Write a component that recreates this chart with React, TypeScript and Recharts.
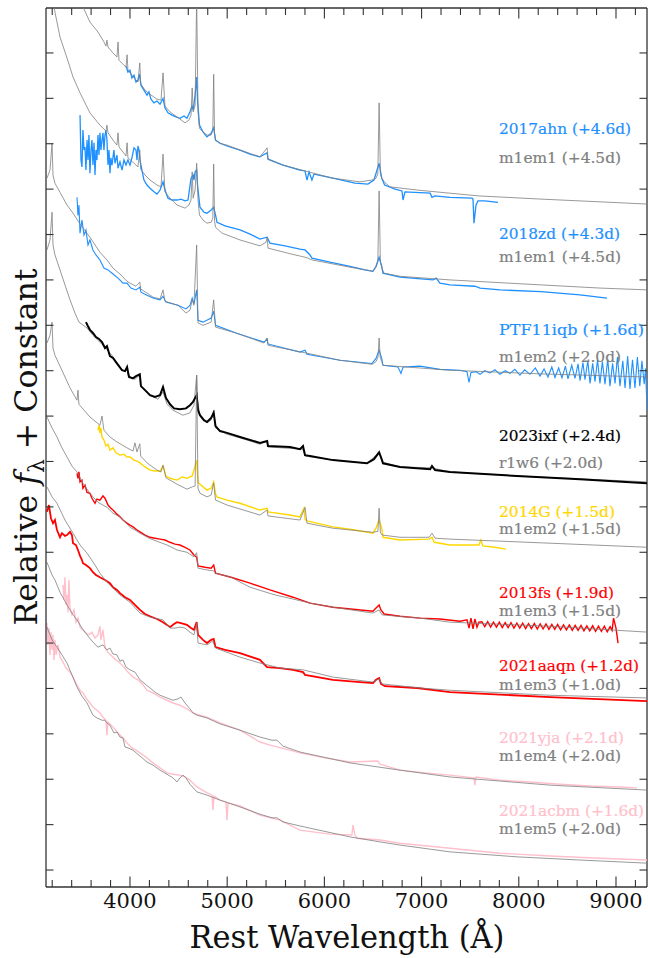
import React from "react";
import { ComposedChart, Line, XAxis, YAxis, ReferenceLine } from "recharts";

type Pt = [number, number];

// rest wavelength (A), relative flux + offset (one unit per y tick)
const sn2017ahn: Pt[] = [[3959,17.71],[3979,17.58],[4000,17.62],[4020,17.45],[4041,17.51],[4062,17.36],[4082,17.40],[4098,17.53],[4113,17.29],[4144,17.18],[4175,17.07],[4195,17.14],[4216,16.98],[4247,16.90],[4278,16.94],[4309,16.87],[4340,17.0],[4360,16.79],[4391,16.68],[4432,16.63],[4473,16.59],[4514,16.56],[4555,16.61],[4586,16.56],[4617,16.70],[4638,16.83],[4650,16.74],[4670,17.07],[4686,17.47],[4695,16.96],[4715,16.41],[4751,16.26],[4792,16.15],[4835,16.23],[4861,16.35],[4880,16.08],[4926,16.01],[4998,15.95],[5132,15.86],[5235,15.77],[5337,15.71],[5411,15.80],[5420,15.66],[5574,15.53],[5749,15.42],[5801,15.40],[5821,15.20],[5842,15.38],[5872,15.20],[5893,15.33],[6088,15.24],[6314,15.13],[6448,15.11],[6510,15.20],[6563,15.57],[6590,15.24],[6620,15.09],[6727,15.00],[6798,14.96],[6809,14.76],[6829,14.94],[7088,14.91],[7107,14.82],[7138,14.85],[7292,14.82],[7519,14.80],[7529,14.78],[7539,14.25],[7560,14.65],[7580,14.74],[7652,14.74],[7786,14.71]];
const m1em1_a: Pt[] = [[3486,19.16],[3588,18.68],[3671,18.46],[3733,18.24],[3753,18.15],[3763,18.28],[3774,18.13],[3825,18.0],[3866,17.91],[3877,18.24],[3887,17.84],[3938,17.73],[3959,17.69],[3970,17.96],[3979,17.62],[4041,17.45],[4082,17.36],[4101,17.78],[4110,17.32],[4155,17.18],[4206,17.09],[4278,16.98],[4319,16.96],[4340,17.56],[4360,16.83],[4412,16.70],[4484,16.59],[4566,16.46],[4607,16.52],[4628,16.63],[4640,17.23],[4650,16.70],[4670,16.85],[4686,19.2],[4700,16.70],[4715,16.34],[4751,16.26],[4792,16.19],[4835,16.19],[4852,16.30],[4861,17.53],[4870,16.22],[4880,16.08],[4926,16.01],[4998,15.97],[5132,15.86],[5337,15.71],[5411,15.91],[5420,15.66],[5574,15.53],[5801,15.40],[6088,15.24],[6366,15.16],[6490,15.20],[6531,15.24],[6550,15.34],[6563,16.90],[6576,15.34],[6590,15.24],[6625,15.14],[6675,15.05],[6953,14.98],[7292,14.91],[7590,14.85],[8228,14.78],[8835,14.72],[9329,14.67]];

const sn2018zd: Pt[] = [[3486,16.63],[3496,15.64],[3506,15.49],[3516,16.30],[3527,15.86],[3537,15.93],[3547,15.42],[3558,16.08],[3568,15.64],[3578,16.19],[3588,15.35],[3599,15.86],[3609,16.08],[3619,15.53],[3630,16.02],[3640,15.31],[3650,15.86],[3660,15.64],[3671,16.19],[3681,15.75],[3691,16.24],[3701,15.86],[3712,16.08],[3722,16.24],[3732,15.86],[3743,16.19],[3753,16.30],[3763,16.08],[3774,15.53],[3784,15.86],[3794,15.35],[3804,15.69],[3815,15.53],[3835,15.86],[3846,15.57],[3866,15.75],[3877,15.46],[3897,15.60],[3918,15.42],[3938,15.64],[3959,15.53],[3979,15.64],[4000,15.53],[4020,15.69],[4041,15.91],[4062,15.86],[4072,15.64],[4082,15.95],[4093,15.86],[4103,15.64],[4123,15.42],[4144,15.20],[4175,15.09],[4206,15.02],[4247,14.94],[4278,14.89],[4309,14.98],[4340,15.16],[4360,14.98],[4391,14.80],[4432,14.76],[4484,14.76],[4525,14.78],[4566,14.74],[4597,14.76],[4628,15.24],[4650,15.31],[4658,15.20],[4670,15.38],[4686,15.42],[4695,15.09],[4720,14.60],[4761,14.49],[4792,14.47],[4835,14.54],[4861,14.60],[4880,14.43],[4895,14.27],[4978,14.19],[5132,14.10],[5235,14.01],[5337,13.90],[5411,13.94],[5440,13.81],[5595,13.75],[5749,13.68],[5801,13.66],[5852,13.55],[5872,13.48],[6057,13.39],[6263,13.30],[6418,13.22],[6500,13.19],[6531,13.30],[6563,13.50],[6590,13.30],[6603,13.15],[6778,13.06],[7117,13.00],[7150,13.04],[7189,12.93],[7292,12.89],[7549,12.86],[7601,12.82],[7806,12.78],[8228,12.74],[8630,12.67],[8907,12.60]];
const m1em1_b: Pt[] = [[3208,19.16],[3228,18.90],[3280,18.35],[3352,17.89],[3414,17.47],[3486,17.12],[3588,16.68],[3691,16.41],[3753,16.28],[3763,16.41],[3774,16.24],[3825,16.08],[3866,15.97],[3877,16.24],[3887,15.93],[3938,15.79],[3959,15.73],[3970,16.02],[3979,15.69],[4041,15.57],[4082,15.49],[4101,15.86],[4110,15.44],[4155,15.31],[4206,15.20],[4278,15.09],[4319,15.05],[4340,15.77],[4360,14.94],[4412,14.80],[4484,14.65],[4566,14.58],[4607,14.65],[4628,14.76],[4640,15.38],[4650,14.80],[4670,14.98],[4686,15.57],[4700,14.76],[4715,14.43],[4751,14.32],[4792,14.25],[4835,14.27],[4852,14.36],[4861,15.55],[4870,14.30],[4880,14.16],[4947,14.03],[5132,13.88],[5337,13.75],[5400,13.83],[5411,13.94],[5420,13.70],[5660,13.57],[5801,13.50],[5830,13.48],[5872,13.44],[6263,13.28],[6500,13.19],[6531,13.28],[6550,13.40],[6563,14.96],[6576,13.40],[6590,13.28],[6610,13.15],[6778,13.08],[7292,13.00],[8228,12.89],[8835,12.82],[9329,12.78]];

const ptf11iqb: Pt[] = [[3455,14.82],[3465,14.42],[3475,14.65],[3486,14.03],[3506,14.32],[3527,13.99],[3547,14.10],[3568,13.77],[3588,13.88],[3619,13.66],[3650,13.55],[3691,13.44],[3732,13.26],[3774,13.22],[3825,13.13],[3877,13.04],[3928,12.93],[3969,12.93],[4010,12.82],[4062,12.78],[4101,12.84],[4113,12.73],[4175,12.66],[4237,12.60],[4309,12.56],[4340,12.64],[4370,12.51],[4494,12.44],[4576,12.36],[4617,12.44],[4640,12.60],[4658,12.47],[4686,12.78],[4700,12.11],[4751,12.07],[4835,12.16],[4861,12.31],[4880,12.00],[5091,11.83],[5379,11.63],[5411,11.70],[5420,11.59],[5749,11.41],[5801,11.45],[5821,11.36],[6160,11.23],[6490,11.16],[6531,11.27],[6563,11.45],[6590,11.27],[6603,11.12],[6757,11.08],[6788,10.94],[6809,11.08],[6984,11.10],[7189,11.03],[7395,11.01],[7467,10.98],[7488,10.74],[7508,10.96],[7560,10.98],[7601,10.92],[7650,11.00],[7704,10.95],[7755,11.02],[7806,10.92],[7860,11.00],[7909,10.94],[7960,11.03],[8012,10.90],[8060,11.02],[8115,10.92],[8170,11.06],[8218,10.88],[8260,11.04],[8300,10.86],[8340,11.08],[8372,10.85],[8410,11.06],[8444,10.84],[8480,11.10],[8506,10.82],[8545,11.12],[8578,10.83],[8610,11.15],[8630,10.78],[8660,11.18],[8681,10.80],[8710,11.22],[8733,10.72],[8760,11.16],[8784,10.76],[8810,11.24],[8835,10.72],[8860,11.20],[8887,10.70],[8915,11.26],[8938,10.66],[8965,11.16],[8990,10.72],[9015,11.30],[9041,10.66],[9070,11.22],[9093,10.62],[9120,11.32],[9144,10.60],[9170,11.24],[9195,10.62],[9220,11.30],[9245,10.66],[9267,11.22],[9290,10.70],[9305,11.05],[9319,10.13]];
const m1em2_20: Pt[] = [[3146,15.24],[3177,15.42],[3198,16.01],[3208,15.31],[3228,15.13],[3280,14.93],[3352,14.65],[3414,14.47],[3486,14.23],[3588,13.94],[3691,13.61],[3763,13.44],[3825,13.26],[3897,13.13],[3969,12.97],[4000,12.93],[4062,12.86],[4101,12.95],[4110,12.80],[4175,12.71],[4237,12.62],[4309,12.58],[4340,12.78],[4360,12.53],[4494,12.44],[4576,12.27],[4617,12.33],[4640,12.56],[4658,12.44],[4686,13.77],[4700,12.05],[4751,12.00],[4835,12.07],[4861,12.56],[4880,11.96],[5091,11.83],[5379,11.61],[5411,11.72],[5420,11.56],[5811,11.39],[6160,11.23],[6490,11.14],[6531,11.20],[6552,11.30],[6563,11.72],[6574,11.30],[6590,11.20],[6603,11.12],[7292,11.01],[8228,10.93],[9329,10.86]];

const sn2023ixf: Pt[] = [[3547,12.07],[3568,11.98],[3588,11.90],[3619,11.83],[3650,11.74],[3681,11.70],[3712,11.63],[3743,11.50],[3763,11.54],[3794,11.32],[3825,11.28],[3856,11.19],[3887,11.10],[3918,11.01],[3949,10.99],[3970,11.08],[3990,10.86],[4031,10.83],[4062,10.88],[4101,10.92],[4113,10.66],[4165,10.55],[4206,10.46],[4257,10.42],[4309,10.46],[4340,10.64],[4370,10.40],[4412,10.26],[4453,10.17],[4514,10.15],[4576,10.17],[4617,10.24],[4648,10.31],[4670,10.40],[4686,10.46],[4700,10.13],[4720,10.02],[4761,9.91],[4792,9.87],[4835,9.96],[4861,10.07],[4880,9.78],[4926,9.67],[4998,9.63],[5132,9.54],[5337,9.41],[5411,9.45],[5420,9.34],[5646,9.32],[5749,9.27],[5780,9.34],[5801,9.14],[5852,9.12],[6088,9.03],[6438,8.96],[6510,9.05],[6563,9.20],[6590,9.05],[6603,8.96],[6778,8.88],[7088,8.83],[7107,8.90],[7138,8.81],[7292,8.77],[7981,8.68],[8630,8.61],[9329,8.52]];
const r1w6_20: Pt[] = [[3146,13.66],[3177,13.88],[3198,14.49],[3208,13.77],[3228,13.55],[3280,13.22],[3331,12.89],[3383,12.56],[3434,12.27],[3475,12.07],[3558,11.94],[3619,11.78],[3722,11.56],[3815,11.34],[3897,11.08],[3949,10.97],[3970,11.06],[3979,10.90],[4051,10.81],[4101,10.90],[4110,10.66],[4206,10.46],[4288,10.37],[4340,10.53],[4381,10.26],[4442,10.13],[4545,10.02],[4617,10.07],[4658,10.24],[4686,10.90],[4695,10.35],[4720,10.00],[4792,9.85],[4835,9.91],[4861,10.13],[4880,9.74],[4998,9.60],[5132,9.52],[5337,9.38],[5411,9.45],[5420,9.32],[5780,9.27],[5801,9.12],[6088,9.03],[6438,8.96],[6563,9.20],[6593,8.99],[6778,8.88],[7107,8.86],[7292,8.77],[7981,8.68],[9329,8.55]];

const sn2014G: Pt[] = [[3671,9.69],[3681,9.80],[3691,9.63],[3701,9.74],[3712,9.54],[3732,9.47],[3753,9.34],[3774,9.38],[3794,9.25],[3825,9.30],[3856,9.19],[3897,9.14],[3938,9.16],[3969,9.10],[4000,9.10],[4041,9.03],[4072,9.01],[4103,8.97],[4155,8.88],[4206,8.81],[4257,8.79],[4309,8.79],[4340,8.90],[4370,8.68],[4412,8.63],[4484,8.59],[4535,8.66],[4586,8.63],[4640,8.68],[4658,8.81],[4686,9.03],[4700,8.55],[4720,8.50],[4792,8.37],[4835,8.41],[4861,8.55],[4880,8.28],[4895,8.22],[4998,8.15],[5132,8.08],[5337,7.93],[5411,7.97],[5420,7.89],[5646,7.82],[5749,7.78],[5790,7.97],[5801,7.73],[5821,7.69],[6088,7.56],[6314,7.49],[6500,7.42],[6531,7.53],[6563,7.71],[6590,7.53],[6603,7.33],[6778,7.27],[7077,7.29],[7107,7.33],[7130,7.22],[7292,7.16],[7590,7.16],[7610,7.27],[7630,7.14],[7755,7.11],[7868,7.07]];
const m1em2_15: Pt[] = [[3146,11.61],[3177,11.78],[3198,12.07],[3208,11.50],[3228,11.34],[3300,11.01],[3383,10.62],[3455,10.35],[3465,10.57],[3475,10.26],[3588,9.98],[3691,9.80],[3712,10.00],[3732,9.69],[3794,9.54],[3866,9.43],[3969,9.30],[4031,9.23],[4051,9.41],[4072,9.21],[4101,9.39],[4110,9.12],[4175,8.97],[4278,8.81],[4319,8.77],[4340,8.92],[4370,8.64],[4484,8.50],[4586,8.39],[4640,8.44],[4670,8.46],[4686,10.90],[4700,8.41],[4720,8.30],[4792,8.22],[4835,8.26],[4861,8.53],[4880,8.15],[4998,8.04],[5337,7.82],[5411,7.93],[5420,7.80],[5749,7.71],[5801,7.99],[5821,7.64],[6088,7.53],[6500,7.44],[6550,7.46],[6563,7.97],[6576,7.43],[6593,7.38],[6778,7.33],[7077,7.33],[7107,7.42],[7138,7.31],[7292,7.29],[8321,7.20],[9329,7.11]];

const sn2013fs: Pt[] = [[3455,8.74],[3465,8.63],[3475,8.77],[3486,8.55],[3506,8.59],[3516,8.41],[3537,8.48],[3558,8.32],[3588,8.30],[3609,8.19],[3640,8.08],[3660,8.17],[3691,8.15],[3722,8.24],[3743,8.19],[3774,8.04],[3804,7.97],[3825,7.93],[3866,7.84],[3897,7.78],[3928,7.71],[3969,7.64],[4000,7.60],[4031,7.56],[4072,7.49],[4103,7.45],[4155,7.38],[4206,7.33],[4257,7.31],[4309,7.29],[4360,7.27],[4412,7.22],[4463,7.18],[4514,7.16],[4566,7.11],[4617,7.05],[4658,6.94],[4686,6.89],[4700,6.70],[4772,6.67],[4835,6.65],[4861,6.72],[4880,6.54],[5039,6.45],[5235,6.32],[5440,6.17],[5677,6.01],[5852,5.88],[6088,5.79],[6500,5.70],[6531,5.77],[6563,5.84],[6582,5.73],[6615,5.64],[6778,5.59],[6984,5.55],[7189,5.53],[7395,5.48],[7467,5.51],[7488,5.33],[7508,5.55],[7529,5.31],[7549,5.53],[7570,5.35],[7590,5.46],[7620,5.47],[7650,5.36],[7680,5.47],[7710,5.35],[7740,5.46],[7770,5.35],[7800,5.46],[7830,5.34],[7860,5.45],[7890,5.34],[7920,5.45],[7950,5.33],[7980,5.44],[8010,5.33],[8040,5.44],[8070,5.32],[8100,5.43],[8130,5.32],[8160,5.43],[8190,5.31],[8220,5.42],[8250,5.31],[8280,5.42],[8310,5.30],[8340,5.41],[8370,5.30],[8400,5.41],[8430,5.29],[8460,5.40],[8490,5.29],[8520,5.40],[8550,5.28],[8580,5.39],[8610,5.28],[8640,5.39],[8670,5.27],[8700,5.38],[8730,5.27],[8760,5.38],[8790,5.26],[8820,5.37],[8850,5.26],[8880,5.37],[8910,5.25],[8940,5.36],[8960,5.28],[8975,5.55],[9000,5.33],[9021,5.0]];
const m1em3_15: Pt[] = [[3146,9.98],[3198,9.74],[3249,9.54],[3300,9.30],[3352,9.10],[3403,8.90],[3455,8.77],[3516,8.52],[3588,8.30],[3671,8.10],[3763,7.99],[3825,7.86],[3897,7.78],[3969,7.62],[4000,7.55],[4051,7.49],[4103,7.42],[4206,7.30],[4381,7.16],[4484,7.05],[4586,7.00],[4658,6.90],[4686,6.99],[4700,6.65],[4792,6.61],[4861,6.59],[4880,6.54],[5039,6.45],[5235,6.23],[5492,6.06],[5677,5.97],[5852,5.88],[6088,5.79],[6500,5.66],[6563,5.73],[6593,5.62],[6984,5.55],[7292,5.46],[8321,5.37],[9329,5.24]];

const sn2021aaqn: Pt[] = [[3146,7.89],[3166,8.04],[3187,7.75],[3208,7.64],[3228,7.71],[3249,7.49],[3280,7.33],[3300,7.42],[3331,7.36],[3352,7.38],[3383,7.45],[3403,7.38],[3414,7.20],[3444,7.16],[3465,7.05],[3486,6.92],[3506,6.83],[3516,6.76],[3547,6.72],[3588,6.65],[3619,6.56],[3650,6.50],[3691,6.45],[3743,6.39],[3794,6.32],[3825,6.23],[3866,6.17],[3897,6.10],[3949,6.01],[4000,5.95],[4051,5.84],[4103,5.73],[4155,5.64],[4206,5.59],[4278,5.53],[4340,5.46],[4381,5.40],[4412,5.35],[4453,5.42],[4484,5.46],[4525,5.44],[4586,5.40],[4628,5.33],[4658,5.29],[4686,5.46],[4700,5.18],[4751,5.07],[4792,5.00],[4835,5.07],[4861,5.09],[4880,4.91],[4978,4.85],[5132,4.78],[5337,4.63],[5410,4.47],[5543,4.45],[5677,4.41],[5780,4.36],[5801,4.30],[6088,4.19],[6366,4.14],[6500,4.12],[6531,4.19],[6563,4.23],[6582,4.10],[6623,4.05],[6953,4.01],[7292,3.92],[8321,3.81],[9329,3.72]];
const m1em3_10: Pt[] = [[3146,8.44],[3198,8.22],[3249,8.08],[3331,7.71],[3414,7.42],[3486,7.16],[3558,6.98],[3640,6.72],[3691,6.54],[3763,6.34],[3825,6.21],[3897,6.06],[4000,5.90],[4103,5.66],[4206,5.57],[4340,5.51],[4412,5.33],[4463,5.33],[4514,5.35],[4566,5.33],[4617,5.24],[4658,5.18],[4686,5.44],[4700,5.00],[4792,4.96],[4850,5.04],[4880,4.89],[5132,4.69],[5337,4.56],[5543,4.45],[5780,4.41],[6088,4.25],[6500,4.14],[6563,4.21],[6593,4.10],[6984,4.01],[7292,3.96],[8321,3.85],[9329,3.79]];

const sn2021yja: Pt[] = [[3311,6.28],[3321,5.95],[3331,6.45],[3342,5.84],[3352,6.06],[3362,5.68],[3372,6.39],[3383,5.77],[3403,5.62],[3424,5.73],[3444,5.46],[3465,5.55],[3486,5.35],[3516,5.29],[3547,5.22],[3578,5.18],[3609,5.24],[3640,5.11],[3671,5.18],[3691,5.37],[3701,5.07],[3722,5.29],[3743,4.89],[3774,4.80],[3815,4.71],[3856,4.63],[3897,4.56],[3938,4.47],[3979,4.36],[4031,4.25],[4082,4.19],[4134,4.08],[4175,3.96],[4237,3.90],[4309,3.81],[4381,3.74],[4442,3.68],[4514,3.63],[4586,3.55],[4648,3.46],[4720,3.41],[4792,3.37],[4926,3.24],[5132,3.08],[5337,2.82],[5440,2.75],[5595,2.67],[5749,2.58],[6006,2.47],[6263,2.38],[6551,2.40],[6572,2.33],[6778,2.20],[7035,2.14],[7292,2.09],[7539,2.03],[7549,1.87],[7560,2.05],[7806,1.98],[8115,1.94],[8424,1.89],[8733,1.85],[9041,1.83],[9216,1.81]];
const m1em4_20: Pt[] = [[3146,6.78],[3198,6.50],[3228,6.39],[3280,6.12],[3352,5.84],[3403,5.66],[3455,5.51],[3506,5.33],[3558,5.18],[3619,5.02],[3671,4.91],[3722,4.96],[3763,4.85],[3794,4.89],[3825,4.76],[3866,4.74],[3897,4.60],[3928,4.63],[3959,4.47],[4000,4.41],[4051,4.36],[4103,4.19],[4155,4.10],[4206,4.01],[4257,3.92],[4309,3.85],[4381,3.79],[4442,3.74],[4494,3.77],[4525,3.81],[4566,3.68],[4617,3.55],[4648,3.46],[4689,3.41],[4792,3.35],[4926,3.22],[5132,3.08],[5337,2.93],[5461,2.86],[5512,2.86],[5574,2.73],[5749,2.60],[6263,2.36],[6778,2.20],[7292,2.05],[8321,1.87],[9329,1.76]];

const sn2021acbm: Pt[] = [[3146,5.44],[3156,4.96],[3166,5.33],[3177,4.74],[3187,5.24],[3198,4.85],[3208,5.18],[3218,4.63],[3228,5.07],[3239,4.74],[3259,4.96],[3280,4.69],[3311,4.58],[3342,4.45],[3383,4.36],[3414,4.25],[3444,4.12],[3486,3.96],[3516,3.90],[3547,3.79],[3588,3.68],[3619,3.59],[3660,3.52],[3691,3.46],[3722,3.37],[3753,3.30],[3763,2.97],[3774,3.26],[3825,3.15],[3877,3.02],[3928,2.91],[3969,2.80],[4020,2.69],[4062,2.64],[4103,2.58],[4175,2.47],[4237,2.36],[4309,2.25],[4381,2.14],[4442,2.11],[4514,2.09],[4566,2.05],[4617,1.98],[4689,1.83],[4792,1.70],[4844,1.65],[4854,1.32],[4864,1.63],[4926,1.54],[4988,1.50],[4998,1.10],[5009,1.48],[5132,1.41],[5337,1.21],[5543,1.10],[5749,0.88],[6057,0.79],[6283,0.77],[6294,0.99],[6314,0.77],[6335,0.70],[6572,0.66],[6778,0.59],[7292,0.48],[7806,0.37],[8321,0.31],[8835,0.26],[9329,0.22]];
const m1em5_20: Pt[] = [[3146,5.35],[3198,5.07],[3249,4.91],[3300,4.74],[3352,4.56],[3403,4.30],[3455,4.03],[3506,3.83],[3558,3.68],[3619,3.41],[3660,3.35],[3712,3.30],[3743,3.30],[3763,3.24],[3794,3.19],[3835,3.02],[3866,3.04],[3897,2.93],[3928,2.91],[3949,2.71],[3979,2.69],[4031,2.64],[4103,2.51],[4175,2.38],[4237,2.31],[4309,2.20],[4381,2.11],[4442,2.03],[4484,1.94],[4514,2.03],[4545,2.09],[4576,2.03],[4617,1.89],[4689,1.72],[4792,1.65],[4926,1.54],[5132,1.39],[5337,1.23],[5461,1.15],[5512,1.15],[5574,1.06],[5749,0.97],[6263,0.73],[6572,0.62],[6778,0.55],[7292,0.40],[7981,0.29],[8630,0.22],[9329,0.15]];

const labelNames = [
  "2017ahn (+4.6d)", "m1em1 (+4.5d)", "2018zd (+4.3d)", "m1em1 (+4.5d)",
  "PTF11iqb (+1.6d)", "m1em2 (+2.0d)", "2023ixf (+2.4d)", "r1w6 (+2.0d)",
  "2014G (+1.5d)", "m1em2 (+1.5d)", "2013fs (+1.9d)", "m1em3 (+1.5d)",
  "2021aaqn (+1.2d)", "m1em3 (+1.0d)", "2021yja (+2.1d)", "m1em4 (+2.0d)",
  "2021acbm (+1.6d)", "m1em5 (+2.0d)",
];
const xTicks = [3200,3400,3600,3800,4000,4200,4400,4600,4800,5000,5200,5400,5600,5800,6000,6200,6400,6600,6800,7000,7200,7400,7600,7800,8000,8200,8400,8600,8800,9000,9200];
const yTicks = [0,1,2,3,4,5,6,7,8,9,10,11,12,13,14,15,16,17,18];

const BLUE = "#1E90FF";
const GOLD = "#FFD700";
const RED = "#FF0000";
const PINK = "#FFC0CB";
const GREY = "#808080";
const FRAME = "#333";
const SERIF = "DejaVu Serif";

const labelColors = [BLUE, GREY, BLUE, GREY, BLUE, GREY, "#000", GREY, GOLD, GREY, RED, GREY, RED, GREY, PINK, GREY, PINK, GREY];
const labelY = [128, 157, 233, 256, 329, 356, 435, 462, 511, 528, 592, 610, 665, 684, 737, 755, 810, 828];
const labelW = [132, 122, 121, 122, 145, 122, 122, 104, 116, 122, 115, 122, 140, 122, 125, 122, 145, 122];

const obs = (d: Pt[], color: string, w = 1.3) => ({ d, color, w, op: 1 });
const mod = (d: Pt[]) => ({ d, color: GREY, w: 1, op: 0.8 });

const series = [
  obs(sn2017ahn, BLUE), mod(m1em1_a),
  obs(sn2018zd, BLUE), mod(m1em1_b),
  obs(ptf11iqb, BLUE, 1.1), mod(m1em2_20),
  mod(r1w6_20), obs(sn2023ixf, "#000", 2),
  obs(sn2014G, GOLD, 1.4), mod(m1em2_15),
  obs(sn2013fs, RED, 1.4), mod(m1em3_15),
  obs(sn2021aaqn, RED, 1.8), mod(m1em3_10),
  obs(sn2021yja, PINK, 1.4), mod(m1em4_20),
  obs(sn2021acbm, PINK, 1.4), mod(m1em5_20),
];

// plot box size, used to mirror ticks onto the top and right edges
const PLOT_W = 601;
const PLOT_H = 879;

const rows = (pts: Pt[]) => pts.map(([w, f]) => ({ w, f }));

const XTick = ({ x, y, payload }: any) => {
  const major = payload.value % 1000 === 0;
  const len = major ? 10.5 : 7;
  return (
    <g>
      <line x1={x} x2={x} y1={y} y2={y - len} stroke={FRAME} strokeWidth={1.1} />
      <line x1={x} x2={x} y1={y - PLOT_H} y2={y - PLOT_H + len} stroke={FRAME} strokeWidth={1.1} />
      {major && (
        <text x={x} y={y + 21} textAnchor="middle" fontFamily={SERIF} fontSize={21} fill="#111">
          {payload.value}
        </text>
      )}
    </g>
  );
};
const YTick = ({ x, y }: any) => (
  <g>
    <line x1={x} x2={x + 7.5} y1={y} y2={y} stroke={FRAME} strokeWidth={1.1} />
    <line x1={x + PLOT_W} x2={x + PLOT_W - 7.5} y1={y} y2={y} stroke={FRAME} strokeWidth={1.1} />
  </g>
);

export default function App() {
  const xDomain = [3136, 9319];
  const yDomain = [-0.374, 18.99];
  return (
    <div style={{ position: "absolute", left: 0, top: 0, width: 648, height: 958, background: "#fff" }}>
      <ComposedChart width={648} height={958} margin={{ top: 8, right: 1, bottom: 0, left: 0 }}>
        <XAxis dataKey="w" type="number" domain={xDomain} allowDataOverflow ticks={xTicks}
          interval={0} height={71} tickSize={0} tickMargin={0} tick={<XTick />}
          axisLine={{ stroke: FRAME, strokeWidth: 1.3 }} tickLine={false} />
        <YAxis type="number" domain={yDomain} allowDataOverflow ticks={yTicks} interval={0}
          width={46} tickSize={0} tickMargin={0} tick={<YTick />}
          axisLine={{ stroke: FRAME, strokeWidth: 1.3 }} tickLine={false} />
        <ReferenceLine y={yDomain[1]} stroke={FRAME} strokeWidth={1.3} ifOverflow="visible" />
        <ReferenceLine x={xDomain[1]} stroke={FRAME} strokeWidth={1.3} ifOverflow="visible" />
        {series.map((s, i) => (
          <Line key={i} data={rows(s.d)} dataKey="f" type="linear" dot={false} activeDot={false}
            stroke={s.color} strokeWidth={s.w} strokeOpacity={s.op} isAnimationActive={false} />
        ))}
      </ComposedChart>
      <svg width={648} height={958} style={{ position: "absolute", left: 0, top: 0, pointerEvents: "none" }}>
        {labelNames.map((t, i) => (
          <text key={i} x={499} y={labelY[i] + 5.5} fill={labelColors[i]} stroke={labelColors[i]} strokeWidth={0.2}
            fontFamily={SERIF} fontSize={15} textLength={labelW[i]} lengthAdjust="spacingAndGlyphs">
            {t}
          </text>
        ))}
        <text x={347} y={948} textAnchor="middle" fontFamily={SERIF} fontSize={32} fill="#111"
          textLength={315} lengthAdjust="spacingAndGlyphs">
          Rest Wavelength (Å)
        </text>
        <text transform="translate(37,447) rotate(-90)" textAnchor="middle" fontFamily={SERIF} fontSize={32}
          fill="#111" textLength={357} lengthAdjust="spacingAndGlyphs">
          Relative <tspan fontStyle="italic">f</tspan>
          <tspan fontSize={22} dy={7}>λ</tspan>
          <tspan dy={-7}> + Constant</tspan>
        </text>
      </svg>
    </div>
  );
}
